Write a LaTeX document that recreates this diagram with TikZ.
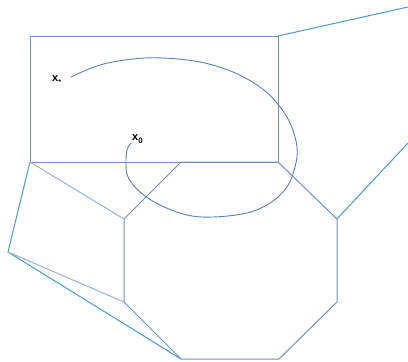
\documentclass[tikz,border=0pt]{standalone}
\usepackage{fontspec}
\setmainfont{Liberation Sans}
\definecolor{edge}{HTML}{6F8FC4}
\definecolor{outer}{HTML}{4A9ACB}
\definecolor{light}{HTML}{9AB0D8}
\definecolor{curve}{HTML}{5A7FBF}
\tikzset{
  edgeline/.style={draw=edge, line width=1pt},
  outerline/.style={draw=outer, line width=1pt},
  lightline/.style={draw=light, line width=1pt},
  lbl/.style={inner sep=0pt, font=\bfseries\fontsize{11}{12}\selectfont}
}
\begin{document}
\begin{tikzpicture}[x=1pt,y=-1pt]
\useasboundingbox (0,0) rectangle (408,362);
% rectangle corners
\coordinate (rtl) at (30,36);
\coordinate (rtr) at (278,36);
\coordinate (rbl) at (30,162);
\coordinate (rbr) at (278,162);
% octagon
\coordinate (o1) at (181,162);
\coordinate (o2) at (337,219);
\coordinate (o3) at (337,302);
\coordinate (o4) at (279,359);
\coordinate (o5) at (181,359);
\coordinate (o6) at (124,302);
\coordinate (o7) at (124,219);
% outer
\coordinate (far1) at (408,7);
\coordinate (far2) at (408,143);
\coordinate (lft) at (8,252);

\draw[edgeline] (rtl) -- (rtr) -- (rbr) -- (rbl) -- cycle;
\draw[edgeline] (o1) -- (rbr) -- (o2) -- (o3) -- (o4) -- (o5) -- (o6) -- (o7) -- cycle;
\draw[outerline] (rtr) -- (far1);
\draw[outerline] (o2) -- (far2);
\draw[outerline] (rbl) -- (lft) -- (o5);
\draw[lightline] (rbl) -- (o7);
\draw[lightline] (lft) -- (o6);

\draw[curve, line width=0.9pt] plot[smooth, tension=0.6] coordinates {
(71,77) (100,65) (133,59) (163,58) (200,62) (233,72) (260,87) (277,103)
(290,123) (297,147) (295,167) (287,187) (270,203) (247,213) (213,217)
(187,215) (160,205) (140,192) (128,177) (126,163) (127,150) (131,143)};

\node[lbl, anchor=base west] (xs) at (52,81) {x\raisebox{-3pt}{\fontsize{7}{8}\selectfont *}};
\node[lbl, anchor=base west] (x0) at (132,140) {x\raisebox{-3.5pt}{\fontsize{8}{9}\selectfont 0}};
\end{tikzpicture}
\end{document}
